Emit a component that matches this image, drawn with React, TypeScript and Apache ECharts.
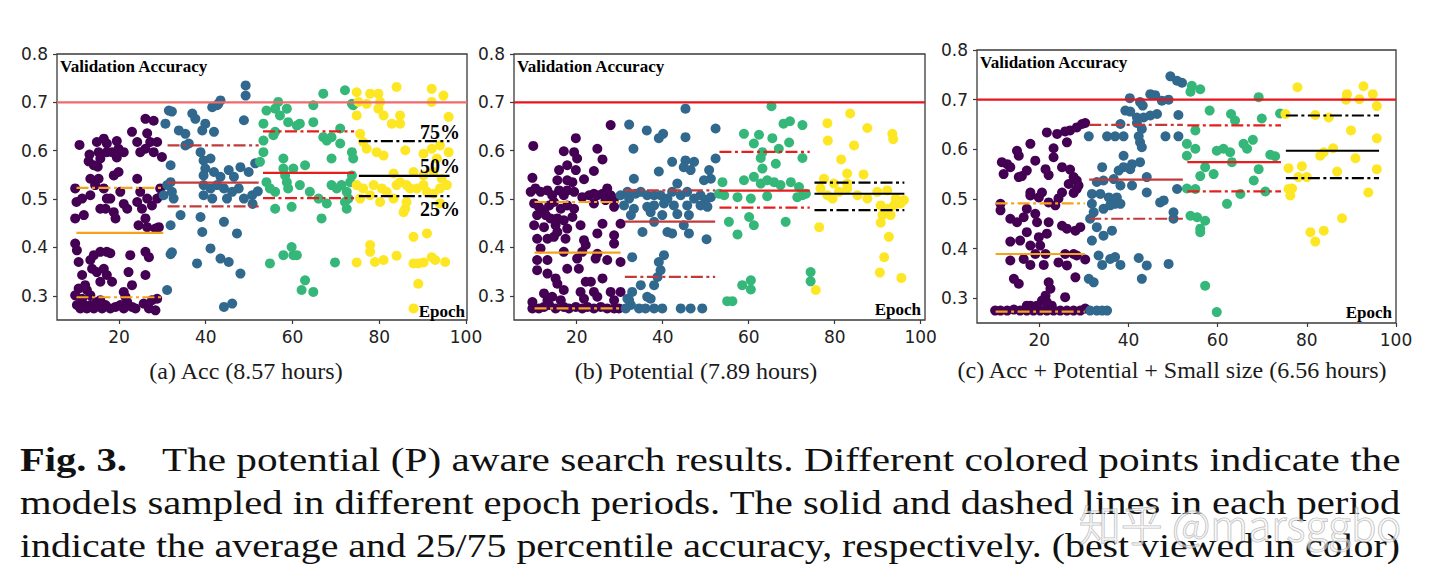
import React, { useEffect, useRef } from "react";
import * as echarts from "echarts";

// ---------- tick labels & periods ----------
const xTicks = [20, 40, 60, 80, 100];
const yTicks = [0.3, 0.4, 0.5, 0.6, 0.7, 0.8];
const periodStart = [10.2, 31.2, 53.2, 75.3];
const periodEnd = [30.2, 52.2, 74.2, 96.2];
const targetAcc = 0.7;

// ---------- panel (a) Acc ----------
const aPurple = [
  [10.9,0.612],[13.2,0.592],[13.0,0.578],[14.9,0.618],[15.3,0.597],[15.7,0.584],[16.5,0.625],[17.2,0.615],[17.2,0.597],[18.4,0.597],[19.5,0.620],[19.9,0.604],[19.5,0.586],[21.1,0.597],[23.0,0.639],[24.2,0.618],[24.9,0.597],[26.1,0.604],[27.2,0.618],[28.0,0.597],[26.5,0.636],[26.1,0.666],[28.0,0.662],[28.8,0.618],[29.9,0.587],[14.2,0.570],[15.1,0.567],
  [9.9,0.522],[10.2,0.494],[9.9,0.460],[11.5,0.501],[11.9,0.467],[13.4,0.542],[14.5,0.529],[15.3,0.542],[16.5,0.522],[17.2,0.501],[16.9,0.480],[18.0,0.501],[18.8,0.549],[19.9,0.556],[20.3,0.515],[21.1,0.490],[21.9,0.480],[18.8,0.473],[19.2,0.460],[24.2,0.542],[24.9,0.515],[24.2,0.494],[25.3,0.480],[26.5,0.501],[27.6,0.487],[28.8,0.501],[29.5,0.522],[29.9,0.508],[26.1,0.460],[24.5,0.446],[26.5,0.442],[28.4,0.439],[29.2,0.442],[13.4,0.508],[15.7,0.480],
  [9.9,0.408],[10.3,0.394],[10.7,0.370],[13.4,0.374],[14.2,0.384],[15.7,0.391],[17.2,0.391],[18.0,0.388],[13.8,0.356],[14.9,0.349],[16.5,0.356],[17.2,0.343],[18.4,0.329],[11.5,0.343],[12.2,0.322],[22.6,0.384],[22.2,0.349],[23.0,0.322],[26.1,0.391],[26.9,0.380],[26.1,0.343],[15.7,0.329],
  [9.9,0.301],[10.3,0.281],[11.1,0.274],[11.9,0.281],[12.6,0.274],[13.4,0.281],[14.2,0.274],[14.9,0.287],[16.1,0.274],[16.9,0.281],[18.0,0.274],[19.2,0.277],[20.3,0.281],[21.1,0.274],[21.9,0.287],[23.0,0.277],[23.8,0.274],[25.7,0.284],[26.9,0.274],[28.4,0.270],[27.6,0.291],[28.8,0.294],[11.5,0.294],[13.4,0.301],[15.7,0.291],[21.1,0.308],[21.5,0.298],[10.7,0.315],[12.6,0.312]
];
const aBlue = [
  [31.5,0.683],[32.2,0.681],[30.7,0.656],[33.8,0.642],[35.3,0.635],[36.9,0.677],[37.6,0.666],[39.2,0.642],[39.9,0.656],[41.9,0.639],[41.5,0.690],[42.6,0.694],[43.4,0.704],[42.9,0.697],[49.2,0.735],[49.2,0.714],[48.8,0.663],[35.3,0.611],[36.1,0.615],[38.8,0.597],[39.5,0.580],[41.1,0.584],[39.9,0.563],[39.5,0.549],[41.9,0.556],[43.4,0.546],[45.3,0.560],[46.5,0.546],[48.0,0.566],[49.9,0.556],[31.9,0.570],[32.2,0.515],[32.6,0.501],[31.1,0.529],[31.9,0.535],[30.3,0.508],[39.5,0.529],[41.1,0.522],[42.6,0.529],[44.2,0.522],[46.1,0.515],[39.5,0.508],[41.5,0.501],[44.9,0.501],[47.6,0.522],[48.8,0.501],[50.7,0.508],[34.2,0.467],[31.9,0.446],[38.8,0.463],[44.2,0.453],[39.2,0.432],[47.2,0.429],[41.1,0.398],[43.4,0.377],[45.3,0.370],[38.0,0.367],[31.9,0.386],[31.1,0.312],[48.0,0.346],[44.2,0.277],[46.1,0.284],[32.2,0.390],[52.0,0.516],[51.4,0.574],[50.8,0.490]
];
const aGreen = [
  [53.3,0.656],[54.0,0.683],[56.0,0.687],[56.7,0.701],[57.1,0.673],[58.7,0.687],[59.0,0.659],[61.0,0.652],[61.7,0.656],[64.8,0.694],[64.8,0.659],[67.1,0.718],[72.1,0.725],[73.7,0.697],[74.0,0.694],[53.3,0.621],[53.3,0.597],[55.6,0.632],[56.0,0.639],[67.1,0.628],[67.9,0.621],[69.0,0.628],[71.0,0.646],[71.0,0.615],[69.0,0.584],[73.7,0.597],[74.0,0.584],[52.5,0.577],[57.9,0.584],[57.9,0.563],[58.3,0.549],[60.2,0.563],[62.9,0.570],[54.0,0.535],[54.8,0.522],[56.0,0.515],[58.7,0.535],[59.0,0.522],[61.7,0.529],[64.0,0.515],[66.0,0.501],[67.9,0.491],[69.0,0.529],[70.2,0.522],[71.3,0.529],[72.5,0.515],[72.9,0.501],[73.3,0.535],[73.7,0.549],[72.5,0.480],[56.0,0.480],[59.8,0.484],[66.7,0.460],[72.1,0.494],[54.8,0.367],[57.9,0.384],[59.8,0.401],[60.2,0.384],[61.0,0.384],[69.8,0.369],[62.9,0.332],[62.1,0.312],[64.8,0.308]
];
const aYellow = [
  [74.8,0.721],[75.2,0.701],[77.1,0.697],[77.9,0.718],[79.8,0.718],[80.2,0.701],[79.8,0.687],[81.0,0.673],[82.9,0.656],[84.8,0.673],[84.8,0.656],[84.0,0.732],[92.1,0.728],[92.1,0.701],[94.8,0.714],[74.8,0.673],[96.0,0.670],[75.6,0.635],[76.3,0.618],[77.1,0.604],[79.4,0.597],[81.0,0.590],[86.0,0.601],[90.2,0.594],[92.1,0.604],[94.0,0.611],[96.0,0.597],[93.3,0.584],[83.3,0.553],[84.8,0.535],[87.9,0.556],[90.2,0.549],[92.5,0.556],[94.4,0.542],[74.8,0.529],[76.3,0.522],[78.7,0.529],[80.6,0.522],[81.7,0.515],[84.0,0.529],[86.3,0.529],[87.1,0.522],[88.7,0.522],[90.2,0.529],[91.0,0.515],[92.5,0.511],[94.0,0.522],[95.6,0.529],[75.6,0.501],[77.9,0.508],[80.2,0.494],[83.3,0.501],[86.3,0.494],[86.0,0.480],[85.6,0.473],[94.0,0.491],[87.9,0.422],[91.0,0.429],[77.9,0.405],[77.9,0.391],[74.8,0.369],[79.0,0.370],[81.0,0.374],[84.0,0.383],[87.9,0.367],[89.0,0.367],[90.2,0.369],[92.1,0.380],[92.9,0.374],[95.2,0.370],[89.0,0.325],[87.9,0.274]
];
const aQ75 = [0.523, 0.611, 0.640, 0.620];
const aMean = [0.430, 0.534, 0.554, 0.548];
const aQ25 = [0.297, 0.485, 0.502, 0.506];

// ---------- panel (b) Potential ----------
const bPurple = [
  [9.9,0.610],[17.0,0.599],[19.8,0.626],[19.4,0.597],[20.1,0.584],[24.8,0.604],[27.9,0.653],[26.0,0.582],[17.8,0.570],[19.8,0.560],[24.0,0.558],[15.9,0.560],[15.5,0.539],[17.8,0.539],[19.0,0.535],[21.7,0.541],[9.7,0.544],
  [9.3,0.515],[10.4,0.522],[11.6,0.515],[13.2,0.518],[14.3,0.508],[15.9,0.518],[17.0,0.508],[17.8,0.518],[19.4,0.515],[21.3,0.504],[22.9,0.508],[24.0,0.511],[24.8,0.508],[26.0,0.511],[27.1,0.522],[27.9,0.508],[28.7,0.501],[10.1,0.491],[11.2,0.484],[12.4,0.477],[13.6,0.487],[14.7,0.494],[16.3,0.480],[17.8,0.487],[19.4,0.480],[12.8,0.467],[13.9,0.460],[10.8,0.467],[15.5,0.460],[17.0,0.456],[19.0,0.463],[10.1,0.446],[12.4,0.442],[15.1,0.446],[17.8,0.439],[20.9,0.446],[26.0,0.449],[30.2,0.449],[24.0,0.491],[26.7,0.498],[28.7,0.484],[15.5,0.432],
  [10.8,0.418],[13.2,0.418],[14.7,0.422],[17.4,0.418],[21.7,0.415],[22.1,0.405],[24.8,0.429],[28.7,0.425],[28.7,0.408],[11.6,0.398],[17.0,0.391],[21.3,0.391],[24.8,0.387],[10.8,0.374],[13.2,0.374],[20.1,0.377],[24.4,0.377],[27.1,0.374],[30.2,0.370],
  [10.8,0.353],[13.2,0.346],[15.1,0.336],[15.5,0.325],[17.8,0.356],[20.5,0.356],[26.0,0.336],[22.1,0.329],[23.3,0.329],[20.9,0.308],[24.0,0.308],[24.8,0.298],[17.0,0.312],[12.4,0.305],[13.2,0.291],[14.3,0.298],[16.3,0.291],[21.7,0.294],[27.9,0.308],[30.2,0.308],[28.7,0.291],[9.7,0.287],
  [9.7,0.274],[11.2,0.274],[12.4,0.277],[13.6,0.281],[15.1,0.274],[17.0,0.277],[18.2,0.274],[19.8,0.277],[21.3,0.274],[22.5,0.277],[24.0,0.274],[25.6,0.277],[27.1,0.274],[28.7,0.274],[29.8,0.274]
];
const bBlue = [
  [32.2,0.654],[36.3,0.642],[39.1,0.626],[40.1,0.635],[45.3,0.628],[45.3,0.687],[52.3,0.646],[33.2,0.604],[42.2,0.577],[45.3,0.580],[47.3,0.577],[44.9,0.566],[46.5,0.560],[50.8,0.560],[52.3,0.584],[51.2,0.542],[39.1,0.557],[33.3,0.542],[43.4,0.532],[49.6,0.539],
  [32.2,0.501],[30.2,0.508],[31.8,0.515],[33.7,0.511],[34.9,0.515],[36.4,0.508],[38.0,0.508],[39.5,0.508],[41.1,0.501],[42.2,0.515],[44.2,0.508],[45.7,0.515],[47.3,0.501],[48.8,0.508],[50.0,0.498],[51.2,0.504],[31.0,0.487],[33.3,0.480],[36.4,0.484],[38.0,0.487],[40.3,0.491],[42.6,0.487],[45.7,0.487],[48.8,0.487],[50.4,0.484],[32.6,0.467],[37.2,0.473],[39.9,0.467],[43.4,0.469],[46.1,0.467],[38.0,0.453],[44.9,0.446],[35.3,0.432],[41.1,0.432],[42.2,0.429],[46.1,0.429],[50.2,0.417],
  [32.9,0.380],[40.3,0.384],[39.1,0.370],[39.5,0.353],[38.8,0.339],[38.0,0.322],[34.9,0.322],[32.9,0.308],[36.4,0.298],[37.2,0.294],[31.8,0.294],[32.6,0.281],[31.4,0.274],[34.5,0.274],[36.0,0.274],[38.0,0.274],[39.9,0.274],[44.2,0.274],[46.5,0.274],[49.2,0.274],[32.2,0.291]
];
const bGreen = [
  [65.3,0.692],[68.1,0.656],[69.6,0.661],[72.5,0.653],[58.9,0.635],[62.4,0.633],[65.5,0.626],[61.2,0.615],[69.4,0.617],[67.0,0.604],[63.2,0.597],[62.8,0.585],[66.3,0.573],[72.5,0.585],[63.2,0.563],[53.9,0.535],[58.9,0.539],[61.2,0.546],[62.8,0.532],[64.3,0.539],[65.9,0.535],[67.4,0.529],[69.8,0.535],[71.7,0.525],[73.3,0.511],[53.1,0.511],[54.3,0.508],[57.4,0.504],[60.5,0.501],[64.3,0.506],[71.3,0.504],[72.5,0.508],[55.4,0.453],[60.1,0.463],[61.2,0.446],[57.4,0.427],[68.6,0.453],[74.4,0.349],[74.4,0.330],[60.5,0.332],[58.5,0.322],[60.5,0.313],[55.0,0.289],[56.2,0.289]
];
const bYellow = [
  [78.3,0.657],[83.6,0.677],[87.6,0.647],[93.4,0.635],[93.6,0.624],[78.4,0.621],[84.5,0.611],[81.5,0.582],[86.7,0.551],[82.9,0.553],[77.5,0.542],[76.7,0.522],[78.3,0.508],[79.5,0.501],[81.0,0.515],[82.9,0.522],[85.3,0.508],[87.6,0.501],[89.9,0.515],[92.2,0.518],[94.2,0.501],[96.1,0.498],[90.7,0.487],[92.2,0.480],[93.8,0.487],[95.3,0.491],[91.1,0.467],[93.0,0.467],[90.7,0.451],[76.4,0.442],[92.6,0.422],[91.5,0.380],[90.5,0.348],[95.5,0.337],[75.6,0.312],[79.8,0.532],[82.9,0.532]
];
const bQ75 = [0.494, 0.518, 0.5975, 0.534];
const bMean = [0.3895, 0.4536, 0.5176, 0.511];
const bQ25 = [0.274, 0.339, 0.4825, 0.477];

// ---------- panel (c) Acc + Potential + Small size ----------
const cPurple = [
  [21.7,0.634],[24.0,0.631],[25.8,0.636],[26.9,0.638],[28.4,0.644],[29.6,0.651],[30.3,0.653],[26.2,0.614],[23.2,0.602],[18.0,0.611],[15.0,0.597],[15.4,0.587],[23.2,0.584],[11.6,0.574],[12.8,0.570],[12.0,0.550],[13.5,0.564],[15.4,0.544],[16.1,0.546],[17.2,0.557],[19.1,0.577],[21.4,0.560],[22.1,0.548],[25.1,0.564],[26.9,0.559],[27.7,0.544],[28.4,0.537],[28.8,0.527],[26.6,0.530],[27.7,0.512],[28.4,0.520],
  [18.0,0.513],[20.6,0.513],[19.9,0.503],[22.1,0.493],[23.6,0.487],[24.3,0.501],[25.1,0.513],[18.0,0.507],[11.3,0.490],[11.3,0.477],[13.5,0.460],[15.0,0.453],[16.5,0.463],[17.2,0.480],[19.1,0.470],[19.5,0.453],[22.1,0.453],[25.1,0.446],[26.2,0.440],[28.1,0.436],[29.2,0.443],[17.2,0.433],[15.7,0.416],[13.5,0.414],[18.0,0.406],[19.9,0.423],[21.7,0.430],[20.2,0.406],[19.1,0.389],[21.4,0.389],[25.8,0.389],[27.7,0.389],[28.4,0.386],[30.3,0.378],[13.5,0.376],[16.5,0.379],[18.0,0.367],[21.0,0.367],[24.3,0.372],[26.2,0.366],[28.1,0.342],[14.3,0.339],[15.4,0.329],[22.1,0.332],[22.5,0.319],[21.4,0.305],[20.6,0.295],[21.7,0.292],[25.8,0.302],[17.2,0.285],[22.8,0.285],
  [10.1,0.275],[11.3,0.275],[12.8,0.275],[14.3,0.277],[15.7,0.275],[17.2,0.275],[18.7,0.275],[20.2,0.275],[21.7,0.275],[23.2,0.275],[24.7,0.275],[26.2,0.275],[27.7,0.275],[29.2,0.275],[30.3,0.279],[19.5,0.285],[18.0,0.285],[21.7,0.280]
];
const cBlue = [
  [49.4,0.747],[50.9,0.738],[52.0,0.734],[44.9,0.711],[46.0,0.709],[47.5,0.698],[49.0,0.700],[40.3,0.703],[42.6,0.695],[43.2,0.688],[39.3,0.678],[40.4,0.676],[41.9,0.664],[43.4,0.664],[44.9,0.668],[46.4,0.671],[51.2,0.669],[38.2,0.651],[41.9,0.653],[43.0,0.641],[31.1,0.626],[35.2,0.626],[37.0,0.626],[38.9,0.626],[42.3,0.626],[42.6,0.614],[43.0,0.604],[48.3,0.626],[51.2,0.626],[38.9,0.587],[40.8,0.570],[42.6,0.574],[34.1,0.564],[37.8,0.557],[38.9,0.564],[40.4,0.560],[36.7,0.540],[34.4,0.537],[32.9,0.534],[40.8,0.527],[44.1,0.544],[38.2,0.527],[44.1,0.513],[50.9,0.520],[31.8,0.510],[33.7,0.510],[35.6,0.503],[37.4,0.503],[37.0,0.490],[31.8,0.490],[32.2,0.473],[34.4,0.480],[35.9,0.487],[38.2,0.490],[47.1,0.493],[47.9,0.497],[50.1,0.473],[50.1,0.460],[31.4,0.460],[32.9,0.443],[36.3,0.436],[34.4,0.426],[31.8,0.416],[33.3,0.386],[34.1,0.367],[35.9,0.379],[37.0,0.383],[38.2,0.367],[42.3,0.381],[44.1,0.366],[49.0,0.369],[31.1,0.339],[32.2,0.332],[43.0,0.339],[31.4,0.275],[32.9,0.275],[34.1,0.275],[35.2,0.275]
];
const cGreen = [
  [54.2,0.728],[56.1,0.721],[53.9,0.716],[69.2,0.705],[58.2,0.678],[63.0,0.671],[63.9,0.658],[69.9,0.662],[74.0,0.672],[55.0,0.638],[53.1,0.611],[55.0,0.601],[53.1,0.587],[59.8,0.597],[61.3,0.601],[62.8,0.594],[65.8,0.611],[67.9,0.619],[66.6,0.601],[71.8,0.589],[72.9,0.586],[63.2,0.574],[57.2,0.564],[69.2,0.560],[56.1,0.546],[59.1,0.550],[68.1,0.537],[53.1,0.521],[55.0,0.520],[65.1,0.510],[70.7,0.515],[62.1,0.490],[53.9,0.466],[55.4,0.463],[57.2,0.456],[56.1,0.440],[56.1,0.433],[57.2,0.325],[59.8,0.272]
];
const cYellow = [
  [77.9,0.725],[89.0,0.711],[88.8,0.700],[91.8,0.701],[92.7,0.727],[94.8,0.711],[95.7,0.687],[75.2,0.671],[81.9,0.669],[84.9,0.664],[89.9,0.638],[95.7,0.622],[83.0,0.587],[83.8,0.594],[85.9,0.602],[90.9,0.582],[75.9,0.562],[78.9,0.566],[78.1,0.544],[80.0,0.544],[86.8,0.555],[95.7,0.560],[75.9,0.520],[76.7,0.521],[76.3,0.507],[93.8,0.513],[87.9,0.461],[80.8,0.433],[83.8,0.436],[81.9,0.414]
];
const cQ75 = [0.491, 0.649, 0.648, 0.668];
const cMean = [0.389, 0.539, 0.574, 0.597];
const cQ25 = [0.273, 0.460, 0.515, 0.542];

// ---------- texts ----------
const subtitles = [
  "(a) Acc (8.57 hours)",
  "(b) Potential (7.89 hours)",
  "(c) Acc + Potential + Small size (6.56 hours)",
];
const percentLabels = ["75%", "50%", "25%"];
const captionLead = "Fig. 3.";
const captionLines = [
  "The potential (P) aware search results. Different colored points indicate the",
  "models sampled in different epoch periods. The solid and dashed lines in each period",
  "indicate the average and 25/75 percentile accuracy, respectively. (best viewed in color)",
];
const watermark = "知乎 @marsggbo";

// ---------- styles / layout ----------
const pointColors = ["#440154", "#31688e", "#35b779", "#fde725"];
const periodColors = ["#f7a21b", "#c23b3b", "#e61e1e", "#000000"];
const DASHDOT = [12, 3.5, 3, 3.5];
const SERIF = '"Liberation Serif", "Times New Roman", serif';

const panels = [
  { left: 57, top: 54, width: 410, height: 266, xMin: 5.71, xMax: 100.23, refColor: "#f06a6a",
    groups: [aPurple, aBlue, aGreen, aYellow], q75: aQ75, mean: aMean, q25: aQ25,
    va: [60, 66], ep: [465, 311], sub: [246, 371] },
  { left: 514, top: 54, width: 411, height: 266, xMin: 5.42, xMax: 101.0, refColor: "#e8141c",
    groups: [bPurple, bBlue, bGreen, bYellow], q75: bQ75, mean: bMean, q25: bQ25,
    va: [517, 66], ep: [921, 309.5], sub: [696, 371] },
  { left: 977, top: 50, width: 419, height: 273, xMin: 6.03, xMax: 100.0, refColor: "#e8141c",
    groups: [cPurple, cBlue, cGreen, cYellow], q75: cQ75, mean: cMean, q25: cQ25,
    va: [980, 62.5], ep: [1392, 312], sub: [1172, 370] },
];

function txt(text: string, x: number, y: number, font: string, align: string, extra: any = {}) {
  return {
    type: "text",
    z: 100,
    silent: true,
    style: {
      text, x, y, font,
      fill: "#000",
      align, verticalAlign: "middle",
      textAlign: align, textVerticalAlign: "middle",
      ...extra,
    },
  };
}

// a caption line stretched horizontally to fill [x0, x1] (justified look of the LaTeX caption)
function stretched(ctx: CanvasRenderingContext2D, text: string, font: string, x0: number, x1: number, y: number) {
  ctx.font = font;
  const w = ctx.measureText(text).width || 1;
  return {
    type: "text",
    z: 100,
    silent: true,
    x: x0,
    y,
    scaleX: (x1 - x0) / w,
    scaleY: 1,
    style: {
      text, x: 0, y: 0, font, fill: "#111",
      align: "left", verticalAlign: "middle", textAlign: "left", textVerticalAlign: "middle",
    },
  };
}

function buildCaption(): any[] {
  const canvas = document.createElement("canvas");
  const ctx = canvas.getContext("2d") as CanvasRenderingContext2D;
  const size = 33;
  const reg = `${size}px ${SERIF}`;
  const bold = `bold ${size}px ${SERIF}`;
  const centers = [460, 503.2, 545.6];
  const els: any[] = [];
  els.push(stretched(ctx, captionLead, bold, 20, 127, centers[0]));
  els.push(stretched(ctx, captionLines[0], reg, 162, 1401, centers[0]));
  els.push(stretched(ctx, captionLines[1], reg, 20, 1401, centers[1]));
  els.push(stretched(ctx, captionLines[2], reg, 20, 1400, centers[2]));
  return els;
}

function buildOption(): any {
  const grid = panels.map((p) => ({
    left: p.left, top: p.top, width: p.width, height: p.height,
    show: true, borderColor: "#3a3a3a", borderWidth: 1.3, backgroundColor: "rgba(0,0,0,0)",
    containLabel: false, outerBoundsMode: "none",
  }));
  const xAxis = panels.map((p, i) => ({
    type: "value", gridIndex: i, min: p.xMin, max: p.xMax,
    axisLine: { show: false }, splitLine: { show: false },
    axisTick: { show: true, inside: false, length: 4, customValues: xTicks, lineStyle: { color: "#3a3a3a", width: 1.2 } },
    axisLabel: { show: true, customValues: xTicks, color: "#222", fontSize: 17, fontFamily: "DejaVu Sans", margin: 8,
      formatter: (v: number) => String(Math.round(v)) },
  }));
  const yAxis = panels.map((p, i) => ({
    type: "value", gridIndex: i, min: 0.25, max: 0.8,
    axisLine: { show: false }, splitLine: { show: false },
    axisTick: { show: true, inside: false, length: 4, customValues: yTicks, lineStyle: { color: "#3a3a3a", width: 1.2 } },
    axisLabel: { show: true, customValues: yTicks, color: "#222", fontSize: 17, fontFamily: "DejaVu Sans", margin: 9,
      formatter: (v: number) => v.toFixed(1) },
  }));
  const series: any[] = [];
  panels.forEach((p, i) => {
    p.groups.forEach((g, gi) => {
      series.push({
        type: "scatter", xAxisIndex: i, yAxisIndex: i, data: g, symbol: "circle", symbolSize: 10,
        itemStyle: { color: pointColors[gi], opacity: 1 }, z: 2, silent: true,
      });
    });
    series.push({
      type: "line", xAxisIndex: i, yAxisIndex: i, data: [[p.xMin, targetAcc], [p.xMax, targetAcc]],
      symbol: "none", lineStyle: { color: p.refColor, width: 2.2 }, z: 3, silent: true,
    });
    const stats = [p.q75, p.mean, p.q25];
    for (let k = 0; k < 4; k++) {
      stats.forEach((s, si) => {
        series.push({
          type: "line", xAxisIndex: i, yAxisIndex: i,
          data: [[periodStart[k], s[k]], [periodEnd[k], s[k]]],
          symbol: "none", z: 4, silent: true,
          lineStyle: { color: periodColors[k], width: 2.2, type: si === 1 ? "solid" : DASHDOT },
        });
      });
    }
  });
  const graphic: any[] = [];
  panels.forEach((p, i) => {
    graphic.push(txt("Validation Accuracy", p.va[0], p.va[1], `bold 17px ${SERIF}`, "left"));
    graphic.push(txt("Epoch", p.ep[0], p.ep[1], `bold 17px ${SERIF}`, "right"));
    graphic.push(txt(subtitles[i], p.sub[0], p.sub[1], `24px ${SERIF}`, "center", { fill: "#1a1a1a" }));
  });
  const pctY = [132, 166.3, 208.7];
  percentLabels.forEach((t, i) => graphic.push(txt(t, 420, pctY[i], `bold 20px ${SERIF}`, "left")));
  buildCaption().forEach((e) => graphic.push(e));
  graphic.push({
    type: "text", z: 200, silent: true,
    style: {
      text: watermark, x: 1240, y: 522, font: '300 42px "Noto Sans CJK SC", "Noto Sans", sans-serif',
      fill: "rgba(255,255,255,0.55)", stroke: "rgba(130,130,130,0.55)", lineWidth: 1.2,
      align: "center", verticalAlign: "middle", textAlign: "center", textVerticalAlign: "middle",
    },
  });
  return { animation: false, backgroundColor: "#ffffff", grid, xAxis, yAxis, series, graphic };
}

export default function App() {
  const ref = useRef<HTMLDivElement>(null);
  useEffect(() => {
    if (!ref.current) return;
    const chart = echarts.init(ref.current, undefined, { renderer: "svg" });
    chart.setOption(buildOption());
    return () => chart.dispose();
  }, []);
  return (
    <div
      ref={ref}
      style={{ position: "fixed", left: 0, top: 0, width: "1441px", height: "587px", background: "#fff" }}
    />
  );
}
